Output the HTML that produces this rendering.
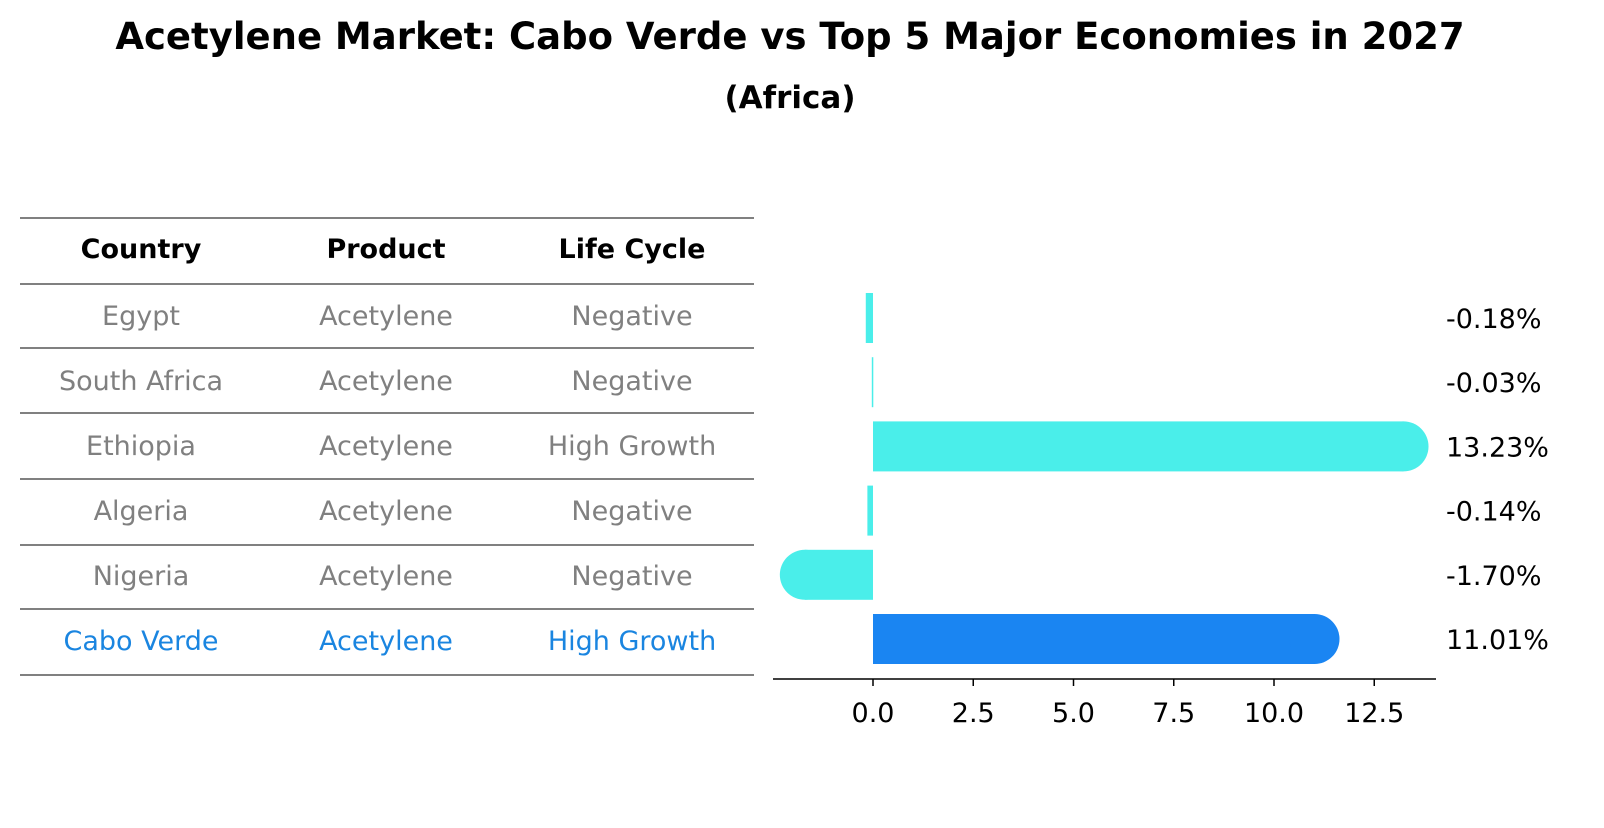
<!DOCTYPE html>
<html><head><meta charset="utf-8"><style>
body{margin:0;background:#fff;font-family:"Liberation Sans","DejaVu Sans",sans-serif}
</style></head><body>
<svg width="1604" height="823" xmlns="http://www.w3.org/2000/svg" font-family="DejaVu Sans, Liberation Sans, sans-serif">
<text x="790" y="49" text-anchor="middle" font-size="37" font-weight="bold">Acetylene Market: Cabo Verde vs Top 5 Major Economies in 2027</text>
<text x="790" y="108" text-anchor="middle" font-size="31" font-weight="bold">(Africa)</text>
<g id="table"></g>
<g id="bars"></g>
</svg>
<script>
const countries=["Egypt","South Africa","Ethiopia","Algeria","Nigeria","Cabo Verde"];
const products=["Acetylene","Acetylene","Acetylene","Acetylene","Acetylene","Acetylene"];
const lifeCycles=["Negative","Negative","High Growth","Negative","Negative","High Growth"];
const values=[-0.18,-0.03,13.23,-0.14,-1.70,11.01];
const ticks=[0,2.5,5,7.5,10,12.5];
const NS="http://www.w3.org/2000/svg";
function mk(t,a,p){const e=document.createElementNS(NS,t);for(const k in a)e.setAttribute(k,a[k]);p.appendChild(e);return e;}
const tbl=document.getElementById('table');
const lineYs=[218,284,348,413,479,545,609,675];
lineYs.forEach(y=>{const l=mk('line',{x1:20,x2:754,y1:y,y2:y,stroke:'#000','stroke-width':1},tbl);

});
const colX=[141,386,632];
["Country","Product","Life Cycle"].forEach((h,i)=>{const t=mk('text',{x:colX[i],y:258,'text-anchor':'middle','font-size':27,'font-weight':'bold'},tbl);t.textContent=h;

});
countries.forEach((c,r)=>{const y=325+r*65;const col=r===countries.length-1?'#1a85e0':'#808080';
[c,products[r],lifeCycles[r]].forEach((v,i)=>{const t=mk('text',{x:colX[i],y:y,'text-anchor':'middle','font-size':27,fill:col},tbl);t.textContent=v;

});});
const g=document.getElementById('bars');
const x0=873,ppu=40.1;
const xs=v=>x0+v*ppu;
const ys=i=>318+i*64.2;
const bh=50;
values.forEach((v,i)=>{const isLast=i===values.length-1;const col=isLast?'#1a85f2':'#4aeeea';
const xa=Math.min(xs(0),xs(v)),xb=Math.max(xs(0),xs(v));
const r=mk('rect',{x:xa,y:ys(i)-bh/2,width:Math.max(xb-xa,1.5),height:bh,fill:col},g);


if(Math.abs(v)>1){const c=mk('circle',{cx:xs(v),cy:ys(i),r:bh/2,fill:col},g);

}
const t=mk('text',{x:1446,y:ys(i)+10,'font-size':27},g);t.textContent=v.toFixed(2)+'%';

});
const ax=mk('line',{x1:773,x2:1436,y1:679,y2:679,stroke:'#000','stroke-width':1.5},g);


ticks.forEach(tv=>{const l=mk('line',{x1:xs(tv),x2:xs(tv),y1:679,y2:686,stroke:'#000','stroke-width':1.5},g);


const t=mk('text',{x:xs(tv),y:722,'text-anchor':'middle','font-size':27},g);t.textContent=tv.toFixed(1);

});
</script>
</body></html>
